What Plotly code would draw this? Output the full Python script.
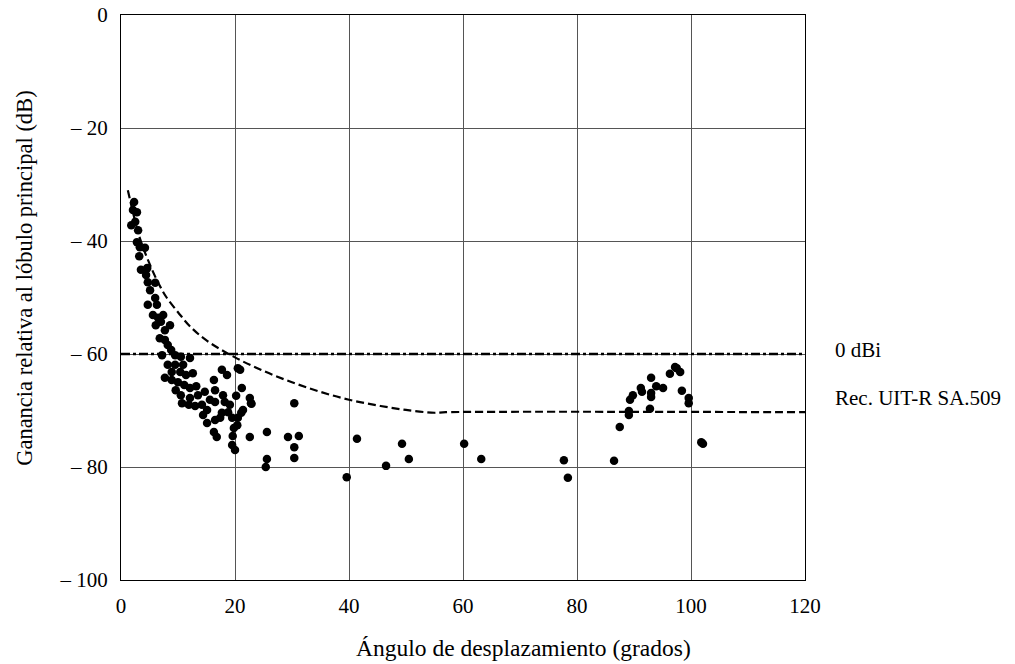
import plotly.graph_objects as go

# Measured points (offset angle in degrees, relative gain in dB)
pts_x = [2.3, 2.1, 2.8, 2.5, 1.8, 3.0, 2.8, 3.3, 4.2, 3.2, 3.5, 4.6, 4.4, 4.7, 5.1, 6.0,
         4.7, 6.0, 6.3, 5.6, 6.5, 7.0, 7.4, 6.1, 7.7, 8.6, 6.8, 7.7, 8.2, 8.8, 7.2, 9.5,
         10.5, 12.1, 8.2, 9.5, 10.9, 8.9, 10.4, 11.4, 7.7, 8.9, 10.0, 12.6, 17.7, 9.6,
         11.1, 12.1, 13.2, 10.5, 12.1, 13.5, 14.7, 16.3, 16.5, 10.7, 11.9, 13.0, 14.2,
         15.1, 16.5, 15.6, 17.9, 18.2, 14.4, 16.5, 17.7, 18.8, 19.1, 15.1, 16.3, 16.8,
         17.4, 19.5, 19.8, 19.6, 19.5, 20.0, 20.4, 20.5, 21.4, 21.1, 20.2, 20.5, 21.2,
         22.6, 22.8, 22.6, 18.6, 20.9, 22.9, 25.6, 25.6, 25.4, 29.3, 31.2, 30.4, 30.4,
         30.4, 41.4, 39.6, 46.5, 49.3, 50.5, 60.2, 63.2, 77.7, 78.4, 86.5, 87.5, 89.1,
         89.1, 89.3, 89.8, 91.2, 91.4, 93.0, 93.0, 92.8, 93.0, 93.9, 95.1, 96.3, 97.2,
         97.5, 98.1, 98.4, 99.6, 99.6, 101.8, 102.1]
pts_y = [-33.1, -34.5, -34.9, -36.6, -37.2, -38.1, -40.2, -41.1, -41.2, -42.7, -45.1,
         -44.8, -46.0, -47.3, -48.7, -47.4, -51.3, -50.1, -51.3, -53.1, -53.6, -54.3,
         -53.1, -54.9, -55.8, -54.9, -57.2, -57.5, -58.4, -59.3, -60.2, -60.2, -60.5,
         -60.7, -61.9, -61.9, -61.9, -63.2, -63.2, -63.7, -64.2, -64.6, -65.0, -63.4,
         -62.8, -66.4, -65.5, -66.0, -65.7, -67.3, -67.8, -67.3, -66.7, -64.6, -66.4,
         -68.7, -69.0, -69.2, -69.0, -69.9, -68.5, -68.1, -67.3, -68.5, -70.8, -71.7,
         -70.4, -70.3, -69.0, -72.2, -73.8, -74.7, -71.3, -71.3, -73.1, -74.5, -76.1,
         -77.0, -72.6, -71.3, -69.9, -70.4, -67.4, -62.5, -66.0, -67.8, -68.7, -74.7,
         -63.7, -62.8, -68.8, -73.8, -78.6, -80.0, -74.7, -74.5, -68.7, -76.5, -78.4,
         -75.0, -81.8, -79.8, -75.9, -78.6, -75.9, -78.6, -78.8, -81.9, -78.9, -72.9,
         -70.1, -70.8, -68.1, -67.3, -66.0, -66.7, -67.6, -66.9, -69.7, -64.2, -65.7,
         -66.0, -63.5, -62.3, -62.5, -63.2, -66.5, -67.8, -68.7, -75.6, -75.9]

# Rec. UIT-R SA.509 envelope
rec_x = [1.2, 2, 3, 4, 5, 6, 7, 8, 10, 12, 15, 20, 25, 30, 35, 40, 45, 50, 55, 57, 120]
rec_y = [-31, -34.5, -38.5, -41.5, -44, -46.3, -48.3, -50.0, -52.6, -55.0, -57.6, -60.6,
         -63.0, -65, -66.7, -68.1, -69.1, -69.9, -70.4, -70.3, -70.3]

# 0 dBi level
odbi_x = [0, 120]
odbi_y = [-60, -60]

x_ticks = [0, 20, 40, 60, 80, 100, 120]
y_ticks = [0, -20, -40, -60, -80, -100]
y_ticktext = ["0", "– 20", "– 40", "– 60", "– 80", "– 100"]

font_family = "Liberation Serif, Times New Roman, serif"

fig = go.Figure()
fig.add_trace(go.Scatter(x=odbi_x, y=odbi_y, mode="lines",
                         line=dict(color="black", width=2.5, dash="9px,3px,3px,3px"),
                         showlegend=False, hoverinfo="skip"))
fig.add_trace(go.Scatter(x=rec_x, y=rec_y, mode="lines", line_shape="spline",
                         line=dict(color="black", width=2.2, dash="8px,4px"),
                         showlegend=False, hoverinfo="skip"))
fig.add_trace(go.Scatter(x=pts_x, y=pts_y, mode="markers",
                         marker=dict(color="black", size=8.5),
                         showlegend=False))

fig.add_annotation(x=1, xref="paper", xanchor="left", xshift=28,
                   y=-59.3, yref="y", yanchor="middle",
                   text="0 dBi", showarrow=False,
                   font=dict(family=font_family, size=21, color="black"))
fig.add_annotation(x=1, xref="paper", xanchor="left", xshift=28,
                   y=-67.8, yref="y", yanchor="middle",
                   text="Rec. UIT-R SA.509", showarrow=False,
                   font=dict(family=font_family, size=21, color="black"))

# Axis titles
fig.add_annotation(x=0, xref="paper", xshift=-96, xanchor="center",
                   y=0.533, yref="paper", yanchor="middle", textangle=-90,
                   text="Ganancia relativa al lóbulo principal (dB)", showarrow=False,
                   font=dict(family=font_family, size=22.5, color="black"))
fig.add_annotation(x=0.589, xref="paper", xanchor="center",
                   y=-0.120, yref="paper", yanchor="middle",
                   text="Ángulo de desplazamiento (grados)", showarrow=False,
                   font=dict(family=font_family, size=23.5, color="black"))

fig.update_layout(
    width=1015, height=664,
    margin=dict(l=121, r=210, t=15, b=84, autoexpand=False),
    paper_bgcolor="white", plot_bgcolor="white",
    font=dict(family=font_family, size=21, color="black"),
)
fig.update_xaxes(range=[0, 120], tickvals=x_ticks, ticks="", showgrid=True,
                 gridcolor="#555555", gridwidth=1, zeroline=False, automargin=False,
                 showline=True, linecolor="black", linewidth=1.2, mirror=True,
                 ticklabelstandoff=7, tickfont=dict(size=21), ticklabeloverflow="allow")
fig.update_yaxes(range=[-100, 0], tickvals=y_ticks, ticktext=y_ticktext, ticks="",
                 showgrid=True, gridcolor="#555555", gridwidth=1, zeroline=False,
                 automargin=False, ticklabelstandoff=8, ticklabeloverflow="allow",
                 showline=True, linecolor="black", linewidth=1.2, mirror=True,
                 tickfont=dict(size=21))

fig.write_html("out.html", config={"displayModeBar": False},
               post_script="document.body.style.margin='0';document.body.style.overflow='hidden';")
